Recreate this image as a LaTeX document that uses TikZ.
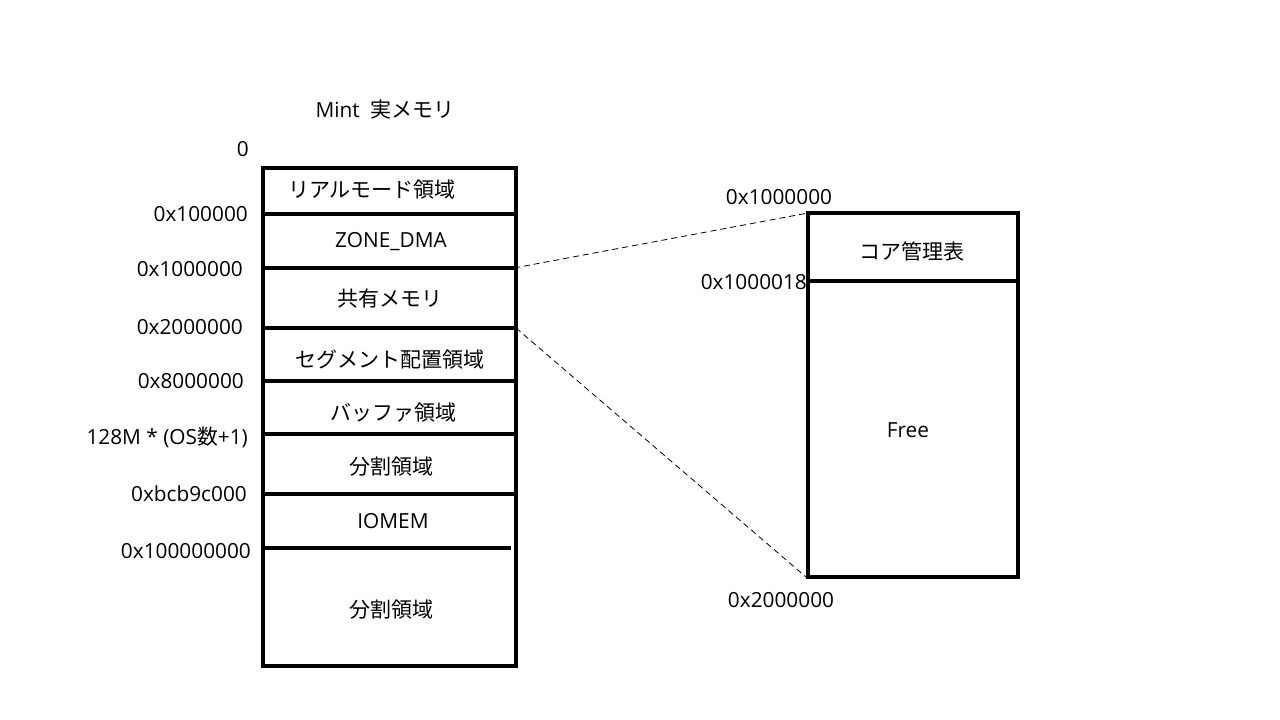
\documentclass[tikz,border=0pt]{standalone}
\usepackage{fontspec}
\setmainfont{Open Sans}
\newfontfamily\cjk{Noto Sans CJK JP}
\begin{document}
\begin{tikzpicture}[x=1pt,y=-1pt,
  lbl/.style={font=\fontsize{20.8}{24}\selectfont, inner sep=0pt},
  jp/.style={font=\cjk\fontsize{21}{24}\selectfont, inner sep=0pt},
  thick line/.style={line width=3.3pt},
  guide/.style={line width=0.8pt, dash pattern=on 6pt off 4pt}]
\useasboundingbox (0,0) rectangle (1280,720);
% left box
\coordinate (LTL) at (263,168);
\coordinate (LBR) at (516,666);
\draw[thick line] (LTL) rectangle (LBR);
\coordinate (d1l) at (263,214); \coordinate (d1r) at (516,214);
\coordinate (d2l) at (261,268); \coordinate (d2r) at (514,268);
\coordinate (d3l) at (263,328); \coordinate (d3r) at (516,328);
\coordinate (d4l) at (263,381); \coordinate (d4r) at (516,381);
\coordinate (d5l) at (263,434); \coordinate (d5r) at (516,434);
\coordinate (d6l) at (263,494); \coordinate (d6r) at (516,494);
\coordinate (d7l) at (263,548); \coordinate (d7r) at (511,548);
\foreach \i in {1,...,7} \draw[thick line] (d\i l) -- (d\i r);
% right box
\coordinate (RTL) at (808,213);
\coordinate (RBR) at (1018,577);
\draw[thick line] (RTL) rectangle (RBR);
\coordinate (r1l) at (808,281); \coordinate (r1r) at (1018,281);
\draw[thick line] (r1l) -- (r1r);
\coordinate (RBL) at (806,577);
% guides
\draw[guide] (d2r) -- (RTL);
\draw[guide] (d3r) -- (RBL);
% title
\node[lbl] (title) at (385,110) {Mint\ \ {\cjk\fontsize{21}{24}\selectfont 実メモリ}};
% left labels
\node[lbl, anchor=east] (a0) at (249,149) {0};
\node[lbl, anchor=east] (a1) at (248,214) {0x100000};
\node[lbl, anchor=east] (a2) at (243,269) {0x1000000};
\node[lbl, anchor=east] (a3) at (243,327) {0x2000000};
\node[lbl, anchor=east] (a4) at (244,381) {0x8000000};
\node[lbl, anchor=east] (a5) at (248,437) {128M * (OS{\cjk 数}+1)};
\node[lbl, anchor=east] (a6) at (247,494) {0xbcb9c000};
\node[lbl, anchor=east] (a7) at (251,551) {0x100000000};
% box texts
\node[jp] (t1) at (372,190) {リアルモード領域};
\node[lbl] (t2) at (391,242) {ZONE\_DMA};
\node[jp] (t3) at (390,299) {共有メモリ};
\node[jp] (t4) at (390,360) {セグメント配置領域};
\node[jp] (t5) at (393,413) {バッファ領域};
\node[jp] (t6) at (391,467) {分割領域};
\node[lbl] (t7) at (393,521) {IOMEM};
\node[jp] (t8) at (391,610) {分割領域};
% right labels
\node[lbl] (b1) at (779,197) {0x1000000};
\node[lbl, anchor=east] (b2) at (807,282) {0x1000018};
\node[lbl] (b3) at (781,600) {0x2000000};
\node[jp] (u1) at (912,251) {コア管理表};
\node[lbl] (u2) at (908,430) {Free};
\end{tikzpicture}
\end{document}
